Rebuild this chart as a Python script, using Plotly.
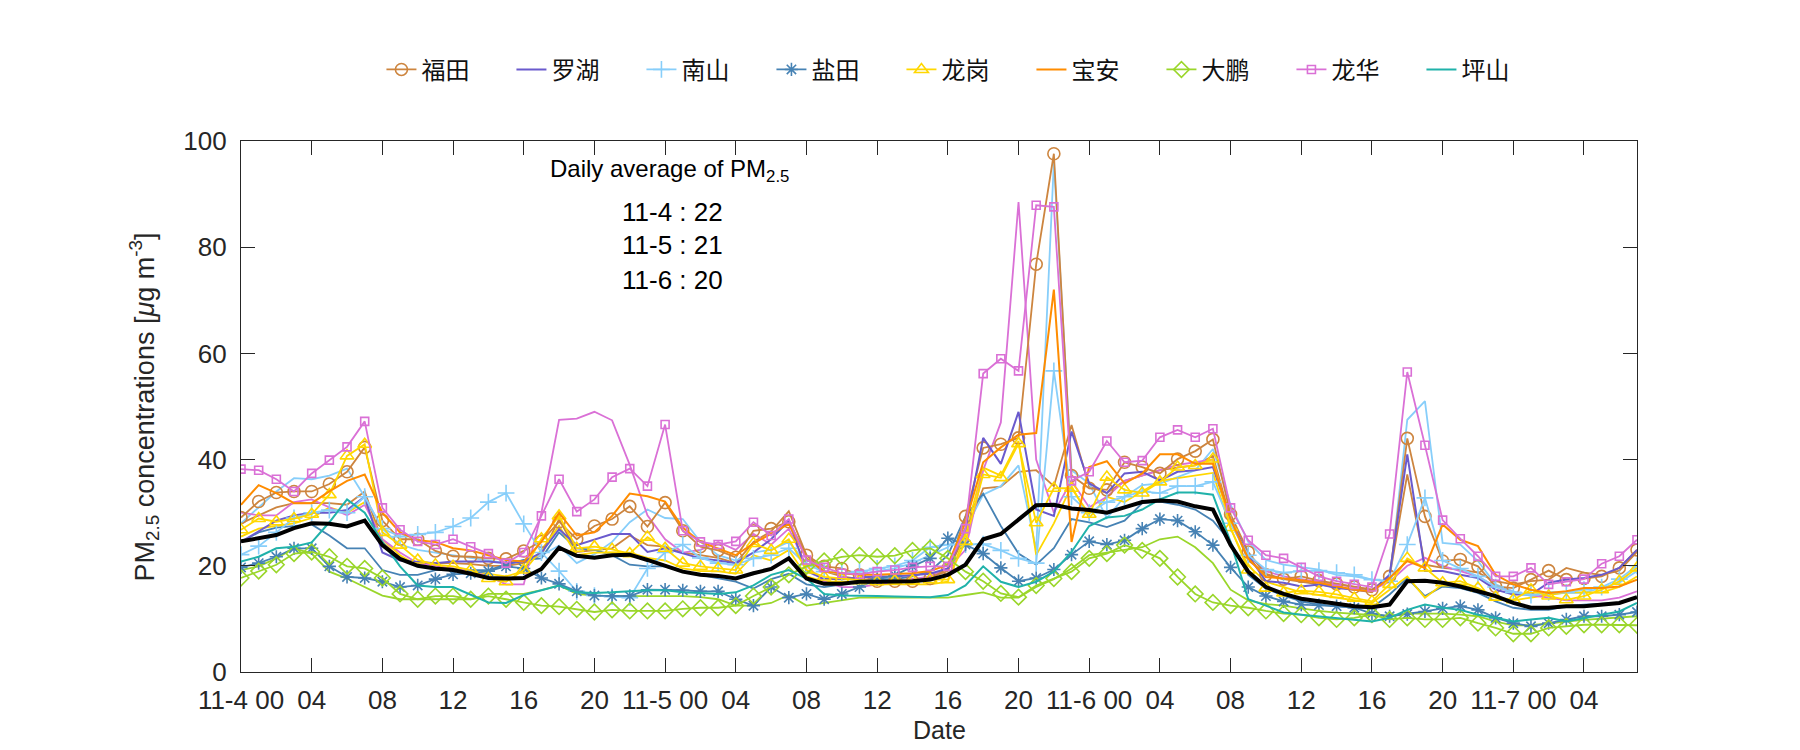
import plotly.graph_objects as go

# ---------------- data (hourly, 11-4 00 .. 11-7 07) ----------------
hours = list(range(80))
tick_hours = [0, 4, 8, 12, 16, 20, 24, 28, 32, 36, 40, 44, 48, 52, 56, 60, 64, 68, 72, 76]
tick_labels = ["11-4 00", "04", "08", "12", "16", "20", "11-5 00", "04", "08", "12", "16", "20",
               "11-6 00", "04", "08", "12", "16", "20", "11-7 00", "04"]
y_ticks = [0, 20, 40, 60, 80, 100]

station_names = ["福田", "罗湖", "南山", "盐田", "龙岗", "宝安", "大鹏", "龙华", "坪山"]

futian = [29.1, 32.1, 33.8, 34.0, 34.0, 35.4, 37.7, 42.3, 28.5, 25.0,
          25.0, 22.8, 21.8, 21.7, 21.4, 21.3, 22.8, 24.6, 28.3, 25.0,
          27.5, 28.8, 31.2, 27.4, 31.9, 26.6, 23.6, 22.9, 21.6, 26.6,
          27.0, 28.3, 22.0, 19.9, 19.5, 18.3, 17.1, 17.1, 17.1, 17.6,
          19.5, 29.3, 42.2, 42.9, 44.1, 76.8, 97.6, 37.0, 34.6, 34.3,
          39.5, 38.6, 37.4, 40.1, 41.6, 43.8, 29.7, 22.6, 18.3, 17.5,
          18.0, 17.2, 16.6, 16.0, 15.5, 18.0, 44.0, 29.3, 20.9, 21.2,
          19.9, 16.1, 15.8, 17.4, 19.1, 17.4, 17.6, 18.0, 19.6, 23.0]
luohu = [24.5, 26.5, 28.5, 29.5, 30.0, 30.0, 30.5, 33.0, 22.5, 21.0,
         20.8, 20.5, 20.8, 20.8, 20.8, 20.5, 20.8, 22.5, 26.9, 23.9,
         25.0, 26.0, 26.0, 22.6, 23.3, 22.3, 21.4, 21.0, 20.5, 22.5,
         25.0, 28.5, 19.0, 17.5, 17.5, 17.8, 18.0, 18.0, 18.2, 18.5,
         19.5, 27.0, 44.1, 39.2, 49.0, 30.6, 29.4, 45.3, 35.5, 33.7,
         37.4, 37.7, 36.1, 37.7, 38.0, 38.6, 28.8, 22.0, 17.1, 16.8,
         16.1, 16.5, 15.8, 15.5, 15.2, 18.3, 41.0, 19.0, 19.0, 18.3,
         17.7, 15.5, 14.6, 14.6, 16.8, 17.4, 17.7, 18.3, 19.6, 23.0]
nanshan = [22.1, 23.7, 26.3, 29.0, 30.0, 30.5, 30.0, 33.0, 27.0, 25.5,
           25.9, 26.3, 27.4, 29.0, 32.0, 33.7, 27.9, 22.5, 19.0, 15.2,
           14.4, 14.2, 14.0, 19.5, 22.5, 24.0, 21.5, 20.5, 20.2, 21.4,
           22.0, 23.3, 20.2, 18.9, 18.6, 18.9, 19.5, 20.0, 21.0, 23.5,
           24.0, 24.0, 24.1, 22.9, 21.4, 20.5, 56.7, 33.0, 30.0, 32.0,
           33.0, 34.0, 33.7, 35.0, 35.0, 35.8, 28.0, 22.0, 19.3, 18.7,
           19.0, 19.1, 18.7, 18.3, 17.4, 17.1, 24.0, 32.8, 21.0, 19.5,
           18.0, 16.0, 15.0, 14.5, 15.0, 15.0, 15.5, 16.0, 17.5, 20.0]
yantian = [19.7, 20.5, 21.7, 23.3, 23.3, 19.9, 17.9, 17.7, 17.0, 16.0,
           16.3, 17.5, 18.4, 18.6, 19.0, 19.9, 19.5, 17.7, 16.6, 15.2,
           14.4, 14.3, 14.3, 15.5, 15.5, 15.4, 15.2, 15.2, 13.7, 12.5,
           16.0, 14.0, 14.7, 13.7, 14.7, 16.0, 17.5, 18.2, 19.9, 21.4,
           25.2, 24.0, 22.3, 19.6, 17.1, 17.7, 19.3, 22.1, 24.6, 24.0,
           24.8, 27.0, 28.8, 28.5, 26.4, 23.9, 19.7, 16.0, 14.3, 13.3,
           12.7, 12.6, 12.4, 12.1, 11.0, 10.5, 10.9, 11.4, 12.0, 12.4,
           11.7, 10.2, 9.2, 8.6, 9.2, 9.9, 10.5, 10.5, 10.8, 11.3]
longgang = [26.8, 28.9, 28.3, 28.9, 29.7, 33.4, 40.7, 42.9, 26.3, 23.9,
            21.1, 20.2, 19.9, 19.2, 17.6, 17.0, 19.2, 25.1, 29.4, 23.3,
            23.6, 23.1, 22.3, 25.4, 23.3, 20.5, 19.9, 19.5, 19.2, 24.2,
            22.9, 25.0, 19.2, 17.9, 17.6, 17.2, 17.0, 17.2, 17.2, 17.4,
            17.4, 24.6, 37.2, 36.6, 43.0, 28.1, 34.6, 34.6, 29.7, 36.7,
            34.3, 33.7, 35.8, 38.6, 38.9, 40.1, 27.2, 19.2, 15.8, 14.9,
            15.3, 15.1, 14.6, 13.9, 13.3, 16.5, 21.4, 19.6, 16.8, 17.1,
            15.8, 14.1, 13.6, 15.5, 14.3, 13.6, 14.3, 15.5, 17.1, 19.6]
baoan = [31.5, 35.2, 33.7, 31.8, 31.8, 34.0, 36.0, 37.2, 30.0, 26.3,
         24.8, 24.5, 23.3, 22.9, 22.0, 21.1, 20.8, 24.5, 30.0, 25.7,
         26.3, 29.4, 33.6, 33.1, 32.1, 27.2, 24.5, 23.3, 22.0, 24.2,
         26.0, 27.9, 21.4, 18.9, 18.6, 18.3, 18.3, 18.4, 18.6, 19.0,
         20.2, 28.2, 39.5, 42.3, 44.7, 45.0, 72.0, 24.5, 38.6, 39.7,
         35.5, 37.4, 41.0, 41.0, 39.2, 39.2, 28.8, 21.4, 17.9, 17.6,
         17.3, 16.8, 16.1, 15.5, 15.2, 17.7, 20.9, 19.6, 27.8, 24.9,
         23.7, 18.3, 16.5, 15.5, 14.9, 15.2, 15.8, 15.8, 16.1, 17.4]
dapeng = [17.7, 19.0, 20.2, 22.3, 22.6, 21.7, 19.9, 19.5, 17.7, 14.7,
          13.7, 14.3, 14.3, 13.7, 14.3, 13.7, 13.1, 12.5, 12.3, 11.8,
          11.3, 11.7, 11.5, 11.5, 11.5, 11.9, 12.1, 12.1, 12.5, 14.3,
          16.0, 18.3, 19.9, 20.9, 21.7, 22.0, 21.7, 21.9, 22.9, 23.3,
          21.4, 18.9, 17.1, 14.8, 14.1, 16.3, 17.6, 18.9, 21.4, 22.3,
          23.9, 22.9, 21.4, 17.9, 14.7, 13.1, 12.5, 12.1, 11.5, 11.0,
          10.8, 10.2, 9.9, 10.2, 10.8, 9.9, 10.2, 9.9, 9.9, 10.2,
          9.2, 8.3, 7.2, 7.2, 8.3, 8.6, 8.9, 8.9, 8.9, 8.8]
longhua = [38.2, 38.0, 36.3, 34.0, 37.4, 39.9, 42.4, 47.2, 30.9, 26.8,
           24.6, 24.0, 25.0, 23.6, 22.3, 20.5, 22.5, 29.4, 36.3, 30.2,
           32.5, 36.7, 38.3, 35.0, 46.6, 26.6, 24.5, 24.0, 24.6, 28.2,
           25.7, 28.8, 21.1, 19.7, 18.6, 18.4, 18.9, 19.2, 19.7, 19.9,
           19.9, 27.0, 56.2, 59.0, 56.7, 87.9, 87.6, 36.0, 37.7, 43.5,
           39.5, 39.8, 44.2, 45.6, 44.2, 45.8, 30.9, 24.8, 22.0, 21.4,
           19.7, 18.0, 17.1, 16.5, 16.0, 26.0, 56.5, 42.7, 28.6, 25.1,
           21.8, 18.0, 18.0, 19.6, 16.5, 17.0, 17.5, 20.4, 21.8, 24.9]
pingshan = [20.8, 21.7, 23.3, 23.6, 24.4, 28.2, 32.5, 30.0, 24.5, 19.9,
            16.3, 16.0, 16.0, 14.5, 13.1, 13.0, 14.5, 15.4, 16.3, 15.0,
            14.9, 15.0, 15.2, 15.4, 15.4, 15.0, 14.9, 14.7, 15.0, 16.3,
            18.3, 19.2, 17.6, 14.7, 14.4, 14.4, 14.3, 14.2, 14.1, 14.1,
            14.5, 16.3, 19.9, 17.0, 16.0, 17.0, 18.9, 22.6, 27.5, 29.1,
            29.4, 30.6, 32.5, 33.8, 33.8, 33.4, 24.5, 13.7, 12.5, 11.2,
            10.8, 10.5, 10.2, 9.9, 9.5, 10.2, 11.7, 12.7, 12.1, 11.7,
            10.8, 10.2, 9.5, 9.9, 10.2, 9.5, 10.2, 10.8, 11.4, 13.0]

# second (unmarked) curves drawn in the station colours
futian_line = [28.0, 29.5, 31.0, 31.8, 31.8, 31.8, 31.5, 34.0, 24.5, 21.4,
               20.5, 20.5, 20.5, 20.3, 20.0, 20.0, 20.5, 22.0, 28.8, 22.6,
               23.0, 23.3, 25.7, 23.9, 23.6, 22.5, 22.0, 21.5, 20.5, 24.5,
               26.5, 30.3, 22.0, 19.0, 18.0, 17.5, 17.3, 17.3, 17.5, 17.8,
               19.0, 26.0, 34.6, 34.9, 37.7, 38.0, 35.0, 46.5, 34.9, 33.7,
               36.0, 37.0, 38.0, 38.5, 38.9, 40.7, 28.8, 21.0, 18.5, 17.5,
               17.0, 16.5, 16.0, 15.5, 15.0, 18.0, 37.2, 20.2, 19.6, 19.3,
               18.7, 17.1, 16.5, 17.1, 17.4, 19.6, 18.7, 18.3, 19.1, 22.6]
nanshan_line = [28.0, 31.0, 34.0, 36.5, 36.3, 37.0, 38.3, 33.0, 27.0, 24.0,
                23.0, 22.5, 22.0, 21.5, 21.0, 20.5, 21.0, 22.0, 23.8, 20.5,
                22.2, 24.5, 28.2, 30.6, 29.0, 28.8, 24.5, 22.0, 21.0, 22.5,
                23.0, 24.5, 20.5, 19.0, 18.5, 18.5, 19.0, 19.5, 20.5, 22.0,
                23.5, 27.0, 33.4, 35.0, 38.9, 23.0, 96.0, 38.0, 35.5, 29.0,
                33.0, 35.2, 35.5, 36.7, 38.0, 42.0, 31.5, 24.5, 21.1, 20.2,
                19.8, 19.3, 18.3, 18.0, 17.4, 17.1, 47.5, 51.0, 24.3, 24.0,
                20.9, 16.5, 15.2, 14.3, 14.6, 14.9, 14.9, 15.8, 16.8, 19.0]
yantian_line = [24.5, 26.3, 27.2, 27.5, 27.8, 25.7, 23.3, 23.3, 19.2, 18.3,
                18.3, 19.2, 19.2, 19.2, 19.2, 20.2, 21.1, 21.4, 26.3, 23.3,
                23.0, 22.0, 20.2, 19.9, 19.9, 18.9, 18.3, 17.6, 17.0, 15.7,
                17.5, 18.5, 16.5, 16.0, 16.5, 17.0, 17.5, 17.5, 18.0, 19.0,
                22.0, 29.3, 33.6, 27.5, 22.3, 20.2, 23.3, 28.8, 28.2, 27.3,
                28.5, 31.8, 32.1, 31.5, 30.6, 28.5, 24.5, 18.3, 15.7, 14.4,
                13.3, 12.7, 12.4, 12.1, 12.1, 14.6, 17.7, 14.3, 16.1, 15.8,
                14.9, 13.3, 12.1, 11.7, 11.7, 12.4, 12.7, 12.8, 13.0, 14.1]
longgang_line = [25.5, 27.0, 27.5, 28.0, 29.0, 31.0, 30.0, 32.0, 25.0, 22.0,
                 20.0, 19.5, 19.3, 19.0, 18.5, 18.0, 19.0, 23.0, 27.5, 22.0,
                 22.5, 22.5, 22.5, 21.5, 21.0, 19.5, 19.0, 19.0, 18.5, 22.0,
                 21.0, 23.0, 18.0, 17.0, 17.0, 16.8, 16.5, 16.5, 16.5, 16.5,
                 17.0, 26.0, 38.5, 37.0, 43.5, 22.0, 28.0, 35.0, 29.0, 33.0,
                 32.0, 34.0, 36.0, 36.5, 37.0, 37.5, 27.0, 20.0, 17.0, 16.0,
                 15.0, 14.5, 14.0, 13.5, 13.0, 15.5, 18.0, 14.0, 16.5, 16.5,
                 15.5, 14.0, 13.5, 14.0, 14.5, 15.0, 15.0, 15.0, 16.0, 18.0]
dapeng_line = [19.2, 19.9, 21.4, 23.3, 22.3, 18.9, 17.6, 16.0, 14.4, 13.7,
               13.7, 13.7, 13.7, 13.7, 14.7, 14.7, 14.7, 15.4, 16.3, 14.7,
               14.4, 14.3, 14.3, 14.4, 14.3, 14.3, 14.1, 13.7, 12.5, 12.5,
               13.0, 14.5, 12.5, 13.0, 13.5, 14.0, 14.0, 14.0, 14.0, 14.0,
               14.0, 14.5, 15.0, 14.0, 14.0, 16.0, 17.5, 19.5, 22.0, 22.5,
               23.0, 23.5, 25.0, 25.5, 23.5, 20.5, 15.5, 13.5, 12.8, 12.5,
               12.0, 11.5, 11.2, 11.0, 10.8, 10.5, 11.0, 11.0, 11.0, 10.8,
               10.5, 9.5, 8.8, 8.8, 9.2, 9.5, 9.8, 10.0, 10.2, 10.5]
longhua_line = [30.0, 29.5, 29.5, 32.0, 32.5, 31.0, 29.5, 31.5, 25.0, 22.5,
                20.5, 20.0, 19.5, 19.0, 18.0, 16.5, 16.5, 30.0, 47.5, 47.7,
                49.0, 47.4, 39.0, 29.5, 25.0, 22.5, 23.0, 24.5, 23.0, 26.0,
                24.0, 27.0, 20.0, 17.0, 16.0, 16.0, 16.5, 17.0, 17.5, 18.0,
                19.5, 23.0, 38.0, 47.0, 88.5, 40.0, 30.0, 36.0, 31.0, 33.0,
                36.0, 37.0, 38.0, 39.0, 39.5, 40.0, 28.0, 22.0, 19.0, 18.0,
                17.5, 17.0, 16.5, 16.0, 15.5, 17.0, 20.0, 21.5, 20.0, 19.0,
                18.0, 16.0, 15.0, 14.5, 14.0, 13.5, 13.5, 13.5, 14.0, 15.2]

# thick black curve (city average)
city_mean = [24.6, 25.2, 25.8, 27.1, 28.0, 27.9, 27.4, 28.5, 23.9, 21.3,
             20.0, 19.5, 19.2, 18.5, 17.7, 17.6, 17.7, 19.4, 23.4, 21.9,
             21.5, 22.0, 22.1, 21.1, 19.9, 18.9, 18.3, 18.1, 17.6, 18.6,
             19.4, 21.4, 17.6, 16.6, 16.6, 17.0, 17.0, 17.0, 17.1, 17.4,
             18.3, 20.2, 25.0, 26.0, 28.8, 31.4, 31.5, 30.8, 30.5, 30.0,
             31.0, 32.0, 32.3, 32.1, 31.2, 30.6, 23.9, 18.9, 16.0, 14.7,
             13.8, 13.3, 12.8, 12.4, 12.2, 12.7, 17.1, 17.2, 16.8, 16.1,
             15.2, 14.3, 13.0, 12.1, 12.1, 12.4, 12.4, 12.7, 13.0, 14.1]

daily_days = ["11-4", "11-5", "11-6"]
daily_avg = [22, 21, 20]

# ---------------- styles ----------------
colors = {"福田": "#CD853F", "罗湖": "#6A5ACD", "南山": "#87CEFA", "盐田": "#4682B4",
          "龙岗": "#FFD700", "宝安": "#FF8C00", "大鹏": "#9AD62A", "龙华": "#DA70D6",
          "坪山": "#20B2AA"}
symbols = {"福田": ("circle-open", 12), "南山": ("cross-thin-open", 12),
           "盐田": ("asterisk-open", 11), "龙岗": ("triangle-up-open", 12),
           "大鹏": ("diamond-open", 12), "龙华": ("square-open", 8)}

series = {"福田": futian, "罗湖": luohu, "南山": nanshan, "盐田": yantian, "龙岗": longgang,
          "宝安": baoan, "大鹏": dapeng, "龙华": longhua, "坪山": pingshan}
extra = {"福田": futian_line, "南山": nanshan_line, "盐田": yantian_line,
         "龙岗": longgang_line, "大鹏": dapeng_line, "龙华": longhua_line}

fig = go.Figure()

for name, vals in extra.items():
    fig.add_trace(go.Scatter(x=hours, y=vals, mode="lines", showlegend=False,
                             line=dict(color=colors[name], width=1.8), hoverinfo="skip"))

for name in station_names:
    vals = series[name]
    if name in symbols:
        sym, sz = symbols[name]
        fig.add_trace(go.Scatter(x=hours, y=vals, mode="lines+markers", name=name,
                                 line=dict(color=colors[name], width=1.8),
                                 marker=dict(symbol=sym, size=sz, color=colors[name],
                                             line=dict(color=colors[name], width=1.6))))
    else:
        fig.add_trace(go.Scatter(x=hours, y=vals, mode="lines", name=name,
                                 line=dict(color=colors[name], width=2.0)))

fig.add_trace(go.Scatter(x=hours, y=city_mean, mode="lines", showlegend=False,
                         line=dict(color="black", width=4)))

FONT = "Liberation Sans, Arial, sans-serif"
AX = "#262626"
common_axis = dict(showline=True, linecolor=AX, linewidth=1.2, mirror="ticks",
                   ticks="inside", ticklen=14, tickwidth=1.2, tickcolor=AX,
                   showgrid=False, zeroline=False,
                   tickfont=dict(family=FONT, size=26, color=AX))

fig.update_layout(
    width=1800, height=750,
    margin=dict(l=233, r=171, t=133, b=86, autoexpand=False),
    paper_bgcolor="white", plot_bgcolor="white",
    font=dict(family=FONT, size=24, color=AX),
    xaxis=dict(range=[0, 79], tickmode="array", tickvals=tick_hours, ticktext=tick_labels,
               ticklabelstandoff=5, **common_axis),
    yaxis=dict(range=[0, 100], tickmode="array", tickvals=y_ticks,
               ticklabelstandoff=8, **common_axis),
    legend=dict(orientation="h", x=0.1006, xanchor="left", y=1.134, yanchor="middle",
                font=dict(family="Noto Sans CJK SC", size=24, color="#111111"),
                entrywidth=85, entrywidthmode="pixels", itemwidth=30,
                bgcolor="rgba(0,0,0,0)", borderwidth=0),
    showlegend=True,
)

# annotation block
fig.add_annotation(xref="paper", yref="paper", x=0.307, y=0.944, showarrow=False,
                   text="Daily average of PM<sub>2.5</sub>", xanchor="center", yanchor="middle",
                   font=dict(family=FONT, size=24, color="black"))
ann_y = [0.8668, 0.8037, 0.7386]
for d, v, yy in zip(daily_days, daily_avg, ann_y):
    fig.add_annotation(xref="paper", yref="paper", x=0.3093, y=yy, showarrow=False,
                       text=f"{d} : {v}", xanchor="center", yanchor="middle",
                       font=dict(family=FONT, size=26, color="black"))

# axis titles
fig.add_annotation(xref="paper", yref="paper", x=-0.0695, y=0.5, showarrow=False,
                   textangle=-90, xanchor="center", yanchor="middle",
                   text="PM<sub>2.5</sub> concentrations [<i>μ</i>g m<sup>-3</sup>]",
                   font=dict(family=FONT, size=27, color=AX))
fig.add_annotation(xref="paper", yref="paper", x=0.5, y=-0.1093, showarrow=False,
                   xanchor="center", yanchor="middle", text="Date",
                   font=dict(family=FONT, size=25, color=AX))

fig.write_html("out.html")
